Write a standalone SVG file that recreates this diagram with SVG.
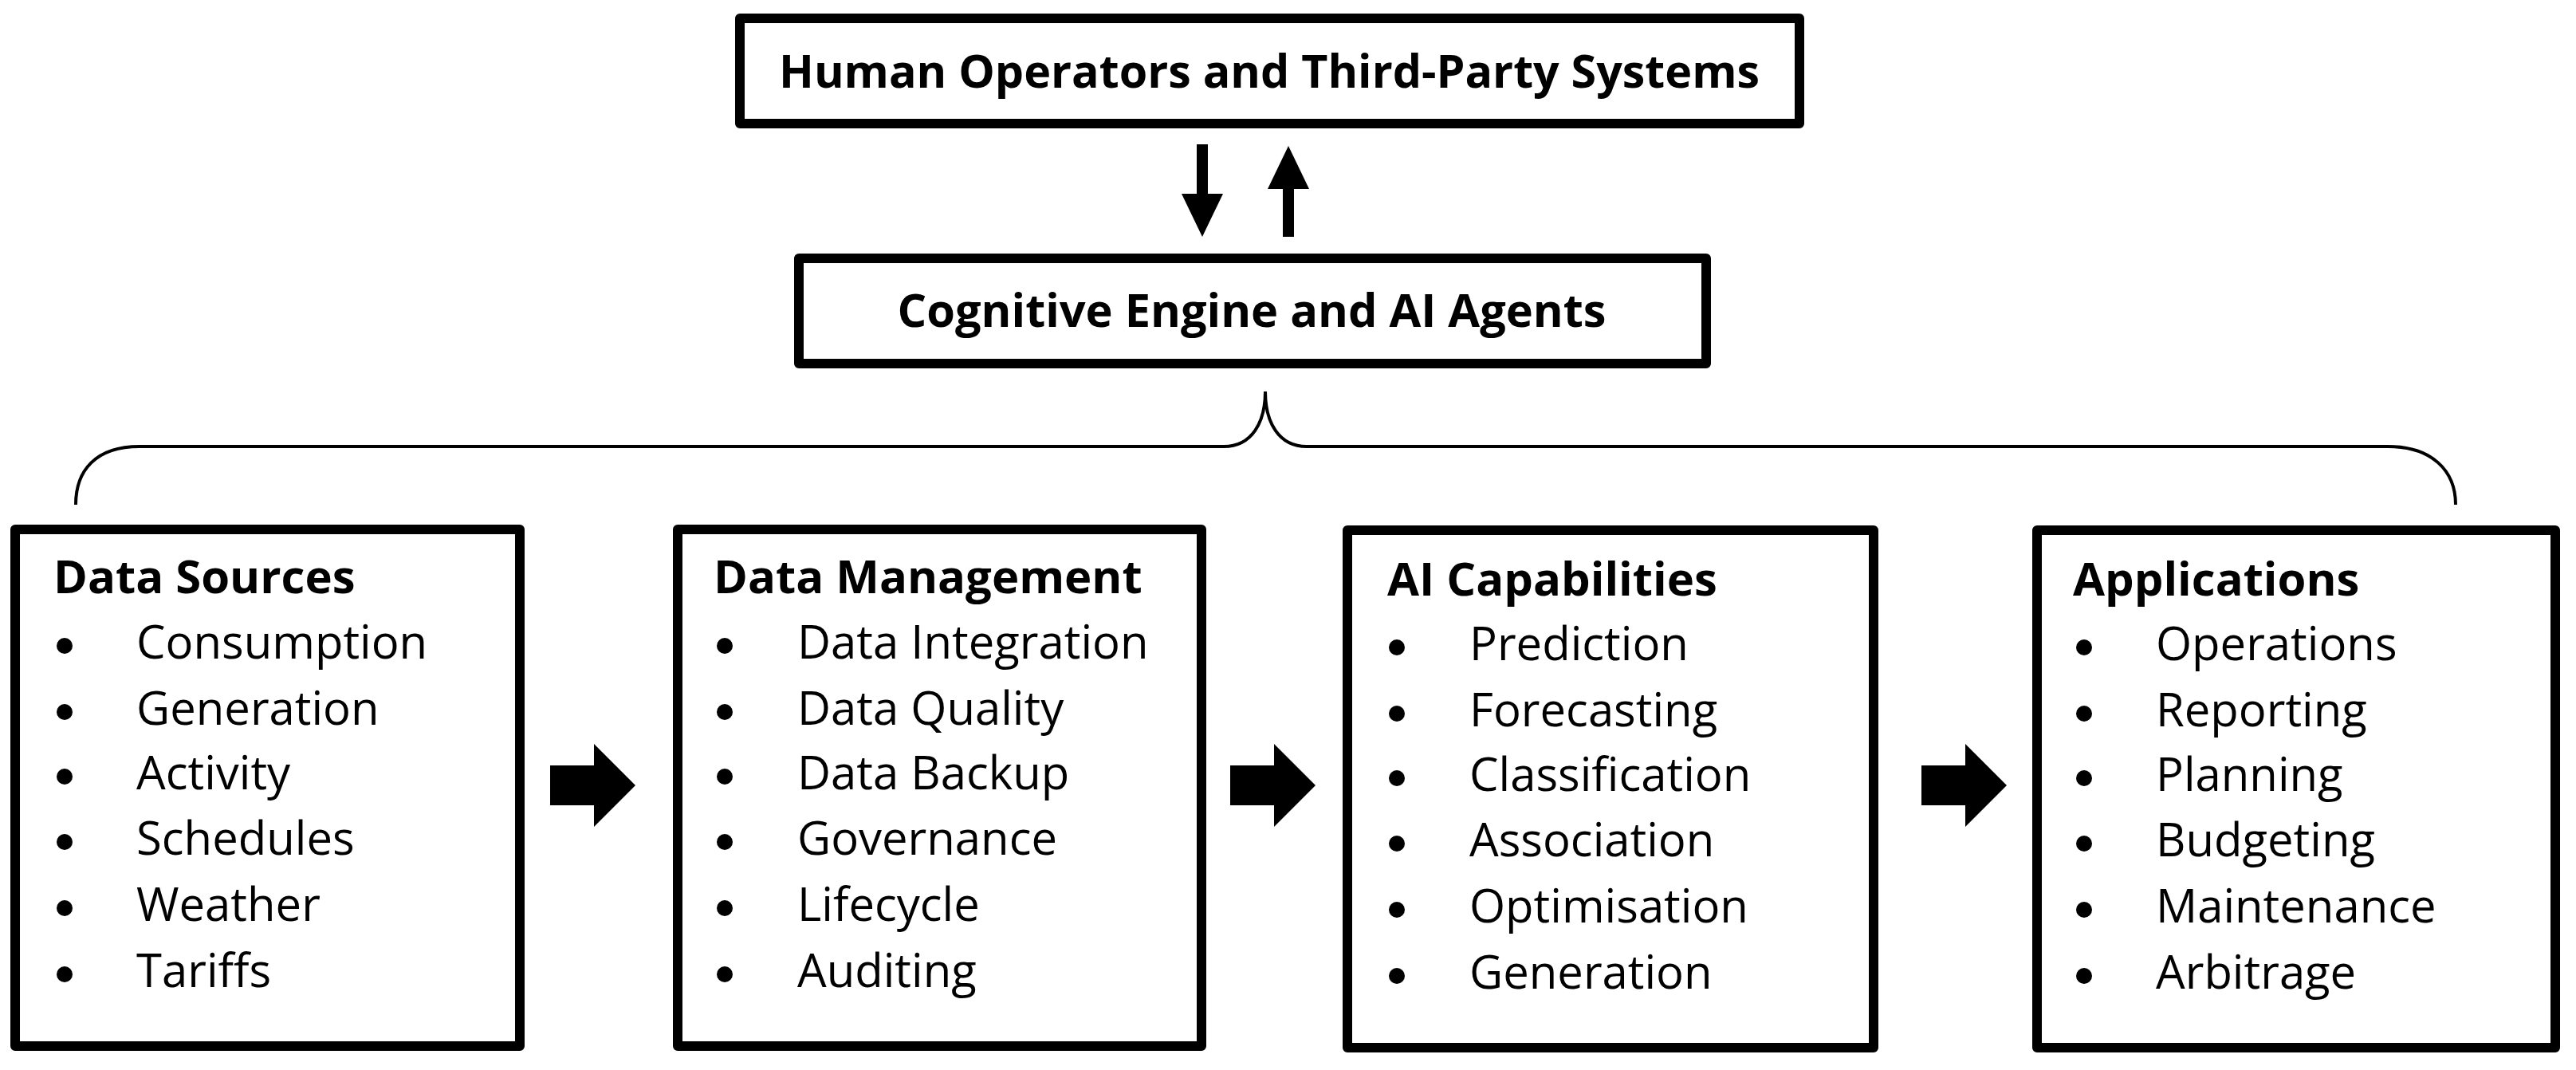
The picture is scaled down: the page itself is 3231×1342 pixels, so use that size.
<svg xmlns="http://www.w3.org/2000/svg" width="3231" height="1342" viewBox="0 0 3231 1342">
<style>
.box{fill:#fff;stroke:#000;stroke-width:12;stroke-linejoin:round}
.hd{font-family:"Open Sans","Liberation Sans",sans-serif;font-weight:bold;font-size:58px;fill:#000}
.tt{font-family:"Open Sans","Liberation Sans",sans-serif;font-weight:bold;font-size:58px;fill:#000}
.it{font-family:"Open Sans","Liberation Sans",sans-serif;font-size:58px;fill:#000}
.br{fill:none;stroke:#000;stroke-width:4}
</style>
<defs>
<g id="bul"><circle r="10" fill="#000"/></g>
<path id="fat" d="M0,-25 H55 V-52 L107,0 L55,52 V25 H0 Z" fill="#000"/>
</defs>
<rect width="3231" height="1342" fill="#fff"/>
<g id="human">
<rect class="box" x="928" y="23" width="1329" height="132"/>
<text class="hd" x="1592" y="110" text-anchor="middle" textLength="1230" lengthAdjust="spacingAndGlyphs">Human Operators and Third-Party Systems</text>
</g>
<g id="cognitive">
<rect class="box" x="1002" y="324" width="1138" height="132"/>
<text class="hd" x="1570" y="410" text-anchor="middle" textLength="889" lengthAdjust="spacingAndGlyphs">Cognitive Engine and AI Agents</text>
</g>
<g id="connectors">
<path d="M1508,181 V245" stroke="#000" stroke-width="14"/>
<path d="M1482,243 H1534 L1508,297 Z" fill="#000"/>
<path d="M1616,297 V235" stroke="#000" stroke-width="14"/>
<path d="M1590,237 H1642 L1616,183 Z" fill="#000"/>
<path class="br" d="M95,633 C95,590 120,560 175,560 H1535 C1570,560 1587,530 1587,491 C1587,530 1604,560 1639,560 H2995 C3050,560 3080,590 3080,633"/>
<use href="#fat" x="690" y="985"/>
<use href="#fat" x="1543" y="985"/>
<use href="#fat" x="2410" y="985"/>
</g>
<g id="data-sources">
<rect class="box" x="19" y="664" width="633" height="648"/>
<text class="tt" x="67" y="744">Data Sources</text>
<use href="#bul" x="81" y="810"/><text class="it" x="171" y="826">Consumption</text>
<use href="#bul" x="81" y="893"/><text class="it" x="171" y="909">Generation</text>
<use href="#bul" x="81" y="974"/><text class="it" x="171" y="990">Activity</text>
<use href="#bul" x="81" y="1056"/><text class="it" x="171" y="1072">Schedules</text>
<use href="#bul" x="81" y="1139"/><text class="it" x="171" y="1155">Weather</text>
<use href="#bul" x="81" y="1222"/><text class="it" x="171" y="1238">Tariffs</text>
</g>
<g id="data-management">
<rect class="box" x="850" y="664" width="657" height="648"/>
<text class="tt" x="895" y="744">Data Management</text>
<use href="#bul" x="909" y="810"/><text class="it" x="1000" y="826">Data Integration</text>
<use href="#bul" x="909" y="893"/><text class="it" x="1000" y="909">Data Quality</text>
<use href="#bul" x="909" y="974"/><text class="it" x="1000" y="990">Data Backup</text>
<use href="#bul" x="909" y="1056"/><text class="it" x="1000" y="1072">Governance</text>
<use href="#bul" x="909" y="1139"/><text class="it" x="1000" y="1155">Lifecycle</text>
<use href="#bul" x="909" y="1222"/><text class="it" x="1000" y="1238">Auditing</text>
</g>
<g id="ai-capabilities">
<rect class="box" x="1690" y="665" width="660" height="649"/>
<text class="tt" x="1740" y="747">AI Capabilities</text>
<use href="#bul" x="1752" y="812"/><text class="it" x="1843" y="828">Prediction</text>
<use href="#bul" x="1752" y="895"/><text class="it" x="1843" y="911">Forecasting</text>
<use href="#bul" x="1752" y="976"/><text class="it" x="1843" y="992">Classification</text>
<use href="#bul" x="1752" y="1058"/><text class="it" x="1843" y="1074">Association</text>
<use href="#bul" x="1752" y="1141"/><text class="it" x="1843" y="1157">Optimisation</text>
<use href="#bul" x="1752" y="1224"/><text class="it" x="1843" y="1240">Generation</text>
</g>
<g id="applications">
<rect class="box" x="2555" y="665" width="650" height="649"/>
<text class="tt" x="2600" y="747">Applications</text>
<use href="#bul" x="2614" y="812"/><text class="it" x="2704" y="828">Operations</text>
<use href="#bul" x="2614" y="895"/><text class="it" x="2704" y="911">Reporting</text>
<use href="#bul" x="2614" y="976"/><text class="it" x="2704" y="992">Planning</text>
<use href="#bul" x="2614" y="1058"/><text class="it" x="2704" y="1074">Budgeting</text>
<use href="#bul" x="2614" y="1141"/><text class="it" x="2704" y="1157">Maintenance</text>
<use href="#bul" x="2614" y="1224"/><text class="it" x="2704" y="1240">Arbitrage</text>
</g>
</svg>
